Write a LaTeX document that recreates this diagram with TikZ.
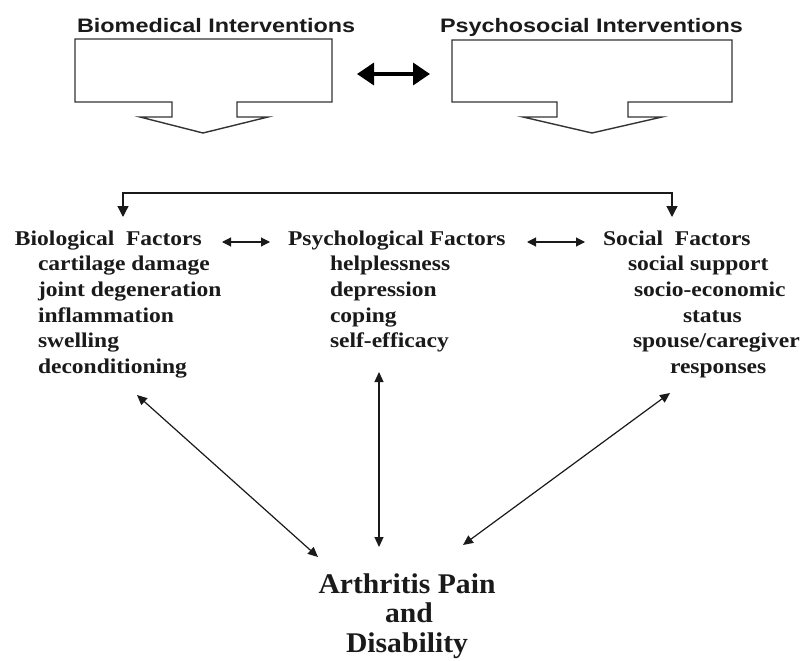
\documentclass[tikz,border=0pt]{standalone}
\usepackage{fontspec}
\usetikzlibrary{arrows.meta}
% Typefaces: sans headings, serif factor lists, larger serif outcome
\newfontfamily\headsans[FakeStretch=1.2]{Liberation Sans}
\newfontfamily\facserif[FakeStretch=1.12]{Liberation Serif}
\newfontfamily\outserif[FakeStretch=1.04]{Liberation Serif}
\definecolor{ink}{HTML}{1A1A1A}
\definecolor{rule}{HTML}{333333}
\tikzset{
  txt/.style={inner sep=0pt, outer sep=0pt, text=ink},
  heading/.style={txt, anchor=base west, font=\headsans\bfseries\fontsize{19.5}{22}\selectfont},
  factor/.style={txt, anchor=base west, font=\facserif\bfseries\fontsize{21}{25}\selectfont},
  outcome/.style={txt, anchor=base, font=\outserif\bfseries\fontsize{28.5}{30}\selectfont},
  callout/.style={draw=rule, line width=1.4pt, line join=miter, fill=white},
  link/.style={draw=ink, line width=1.2pt,
    {Triangle[length=10pt,width=9pt]}-{Triangle[length=10pt,width=9pt]}},
  duo/.style={draw=ink, line width=1.1pt,
    {Triangle[length=9pt,width=9pt]}-{Triangle[length=9pt,width=9pt]}},
  bold link/.style={draw=black, line width=3.6pt,
    {Triangle[length=17pt,width=22pt]}-{Triangle[length=17pt,width=22pt]}},
  feed/.style={draw=ink, line width=1.3pt,
    {Triangle[length=11pt,width=11pt]}-{Triangle[length=11pt,width=11pt]}}
}
\begin{document}
\begin{tikzpicture}[x=1pt,y=-1pt]
\useasboundingbox[fill=white] (0,0) rectangle (801,661);

% intervention headings
\node[heading] (bioT) at (77,33) {Biomedical Interventions};
\node[heading] (psyT) at (440,33) {Psychosocial Interventions};

% callout boxes with downward block arrows
\draw[callout] (75,39) -- (332,39) -- (332,102) -- (237,102) -- (237,117)
  -- (268,117) -- (203,133) -- (140,117) -- (172,117) -- (172,102)
  -- (75,102) -- cycle;
\draw[callout] (452,40) -- (732,40) -- (732,102) -- (628,102) -- (628,117)
  -- (662,117) -- (592,133) -- (523,117) -- (557,117) -- (557,102)
  -- (452,102) -- cycle;

% interaction between the two kinds of intervention
\coordinate (bioBoxR) at (357,74);
\coordinate (psyBoxL) at (430,74);
\draw[bold link] (bioBoxR) -- (psyBoxL);

% factor headings
\node[factor] (bioH) at (15,245) {Biological\ \ Factors};
\node[factor] (psyH) at (288,245) {Psychological Factors};
\node[factor] (socH) at (603,245) {Social\ \ Factors};

% factor lists
\foreach \t [count=\i] in {cartilage damage, joint degeneration, inflammation, swelling, deconditioning}
  \node[factor] (bio\i) at (38,{245+25.7*\i}) {\t};
\foreach \t [count=\i] in {helplessness, depression, coping, self-efficacy}
  \node[factor] (psy\i) at (330,{245+25.7*\i}) {\t};
\node[factor] (soc1) at (628,270.7) {social support};
\node[factor] (soc2) at (634,296.4) {socio-economic};
\node[factor] (soc3) at (683,322.1) {status};
\node[factor] (soc4) at (633,347.8) {spouse/caregiver};
\node[factor] (soc5) at (670,373.5) {responses};

% links between neighbouring factor groups
\coordinate (bioHr) at (222,242);
\coordinate (psyHl) at (270,242);
\coordinate (psyHr) at (527,242);
\coordinate (socHl) at (585,242);
\draw[duo] (bioHr) -- (psyHl);
\draw[duo] (psyHr) -- (socHl);

% interventions feed the biological and social factors
\coordinate (bioIn) at (123,217);
\coordinate (socIn) at (672,217);
\draw[draw=ink, line width=1.3pt, {Triangle[length=11pt,width=11pt]}-{Triangle[length=11pt,width=11pt]}]
  (bioIn) -- ++(0,-24) -| (socIn);

% outcome
\node[outcome] (pain) at (407,593) {Arthritis Pain};
\node[outcome] (and) at (409,622) {and};
\node[outcome] (dis) at (407,652) {Disability};

% two-way links between each factor group and the outcome
\coordinate (bioOut) at (137,395);
\coordinate (painL) at (318,557);
\coordinate (psyOut) at (379,372);
\coordinate (painM) at (379,547);
\coordinate (socOut) at (670,393);
\coordinate (painR) at (463,545);
\draw[link] (bioOut) -- (painL);
\draw[link] (psyOut) -- (painM);
\draw[link] (socOut) -- (painR);
\end{tikzpicture}
\end{document}
